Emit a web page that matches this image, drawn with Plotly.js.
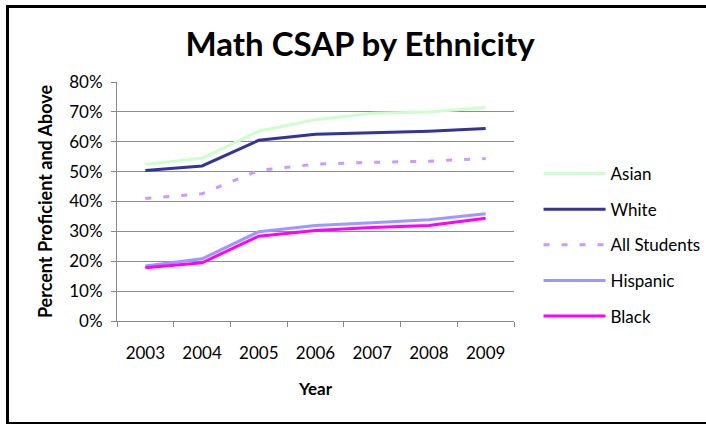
<!DOCTYPE html>
<html>
<head>
<meta charset="utf-8">
<script src="https://cdn.plot.ly/plotly-3.0.1.min.js"></script>
<style>
html,body{margin:0;padding:0;background:#fff;}
#chart{width:706px;height:424px;position:relative;}
#frame{position:absolute;left:6px;top:5px;width:720px;height:414px;border:3px solid #000;pointer-events:none;}
</style>
</head>
<body>
<div id="chart"></div>
<div id="frame"></div>
<script>
const years = ['2003','2004','2005','2006','2007','2008','2009'];
const asian = [0.524, 0.545, 0.635, 0.674, 0.695, 0.700, 0.715];
const white = [0.504, 0.519, 0.605, 0.625, 0.630, 0.635, 0.644];
const allStudents = [0.410, 0.426, 0.504, 0.525, 0.531, 0.535, 0.544];
const hispanic = [0.184, 0.208, 0.299, 0.320, 0.329, 0.339, 0.359];
const black = [0.178, 0.195, 0.284, 0.303, 0.313, 0.320, 0.344];
const yTicks = [0,0.1,0.2,0.3,0.4,0.5,0.6,0.7,0.8];
const yTickText = ['0%','10%','20%','30%','40%','50%','60%','70%','80%'];

const FONT = 'Lato, "Open Sans", sans-serif';
function tr(name, y, color, dash, grp){
  return {x: years, y: y, name: name, type: 'scatter', mode: 'lines',
    legendgroup: grp,
    line: {color: color, width: 3, dash: dash || 'solid'}};
}
const data = [
  tr('Asian', asian, '#ccffcc', null, 'a'),
  tr('White', white, '#333399', null, 'b'),
  tr('All Students', allStudents, '#cc99ff', '6px,12px', 'c'),
  tr('Hispanic', hispanic, '#9999ff', null, 'd'),
  tr('Black', black, '#ff00ff', null, 'e')
];
const layout = {
  width: 706, height: 424,
  margin: {l: 117, r: 192, t: 82, b: 103},
  paper_bgcolor: '#fff', plot_bgcolor: '#fff',
  font: {family: FONT, size: 17, color: '#000'},
  title: {text: '<b>Math CSAP by Ethnicity</b>', font: {size: 33, family: FONT, color: '#000'},
    x: 0.51, xanchor: 'center', y: 0.895, yanchor: 'middle'},
  xaxis: {type: 'category', tickson: 'boundaries', ticks: 'outside', ticklen: 5,
    tickcolor: '#888', showline: true, linecolor: '#888', linewidth: 1,
    showgrid: false, zeroline: false, range: [-0.5, 6.5],
    ticklabelstandoff: 17,
    tickfont: {size: 17, family: FONT},
    title: {text: '<b>Year</b>', font: {size: 17, family: FONT}, standoff: 20}},
  yaxis: {range: [0, 0.8], tickvals: yTicks, ticktext: yTickText,
    ticks: 'outside', ticklen: 5, tickcolor: '#888',
    showline: true, linecolor: '#888', linewidth: 1,
    showgrid: true, gridcolor: '#8c8c8c', gridwidth: 1, zeroline: false,
    ticklabelstandoff: 5,
    tickfont: {size: 17, family: FONT},
    title: {text: '<b>Percent Proficient and Above</b>', font: {size: 18, family: FONT}, standoff: 11}},
  showlegend: true,
  legend: {xref: 'container', yref: 'container', x: 0.7628, xanchor: 'left', y: 0.422, yanchor: 'middle',
    traceorder: 'grouped', tracegroupgap: 10.5, itemwidth: 62,
    font: {size: 17, family: FONT}, bgcolor: 'rgba(0,0,0,0)'}
};
Plotly.newPlot('chart', data, layout, {displayModeBar: false, staticPlot: true});
</script>
</body>
</html>
